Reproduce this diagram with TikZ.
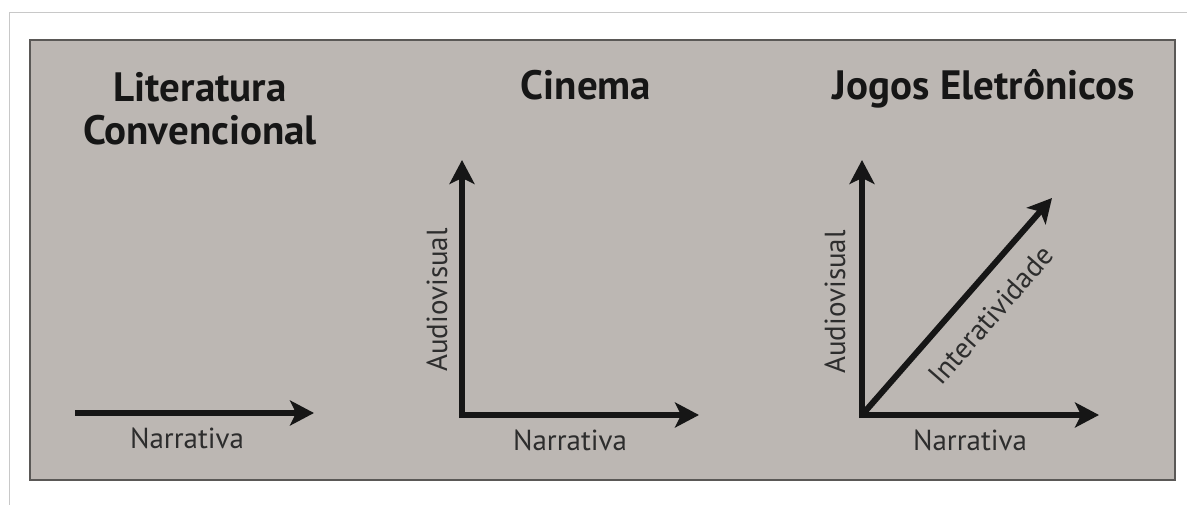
\documentclass[tikz,border=0pt]{standalone}
\usepackage{fontspec}
\setmainfont{PT Sans}
\usetikzlibrary{arrows.meta}
\definecolor{panelgray}{RGB}{188,183,179}
\definecolor{framegray}{RGB}{90,88,86}
\definecolor{rulegray}{RGB}{200,200,200}
\definecolor{ink}{RGB}{22,22,22}
\tikzset{
  title/.style={font=\bfseries\fontsize{41}{46}\selectfont, text=ink, inner sep=0pt, anchor=base},
  axislabel/.style={font=\fontsize{29}{34}\selectfont, text=ink!90, inner sep=0pt},
  axis/.style={line width=6pt, draw=ink, -{Stealth[length=24pt, width=25pt, inset=6pt]}},
}
\begin{document}
\begin{tikzpicture}[x=1pt, y=-1pt]
  \useasboundingbox (0,0) rectangle (1187,505);
  \fill[white] (0,0) rectangle (1187,505);
  % thin page rules
  \draw[rulegray, line width=1pt] (9,505) -- (9,13) -- (1187,13);
  % gray panel
  \draw[framegray, fill=panelgray, line width=2pt] (30,40) rectangle (1175,480);

  % Literatura convencional
  \node[title] (t1a) at (200,102) {Literatura};
  \node[title] (t1b) at (200,145) {Convencional};
  \coordinate (l0) at (75,413);
  \coordinate (l1) at (314,413);
  \draw[axis] (l0) -- (l1);
  \node[axislabel] (n1) at (187,438) {Narrativa};

  % Cinema
  \node[title] (t2) at (586,100) {Cinema};
  \coordinate (c0) at (462,415);
  \coordinate (cx) at (699,415);
  \coordinate (cy) at (462,160);
  \draw[axis] (c0) -- (cx);
  \draw[axis] ([yshift=-3pt]c0) -- (cy);
  \node[axislabel] (n2) at (570,440) {Narrativa};
  \node[axislabel, rotate=90] (a2) at (437,300) {Audiovisual};

  % Jogos eletronicos
  \node[title] (t3) at (984,100) {Jogos Eletrônicos};
  \coordinate (j0) at (862,415);
  \coordinate (jx) at (1099,415);
  \coordinate (jy) at (862,160);
  \coordinate (jd) at (1052,198);
  \draw[axis] (j0) -- (jx);
  \draw[axis] ([yshift=-3pt]j0) -- (jy);
  \draw[axis] (j0) -- (jd);
  \node[axislabel] (n3) at (970,440) {Narrativa};
  \node[axislabel, rotate=90] (a3) at (835,302) {Audiovisual};
  \node[axislabel, rotate=48.8] (i3) at (991,315) {Interatividade};
\end{tikzpicture}
\end{document}
